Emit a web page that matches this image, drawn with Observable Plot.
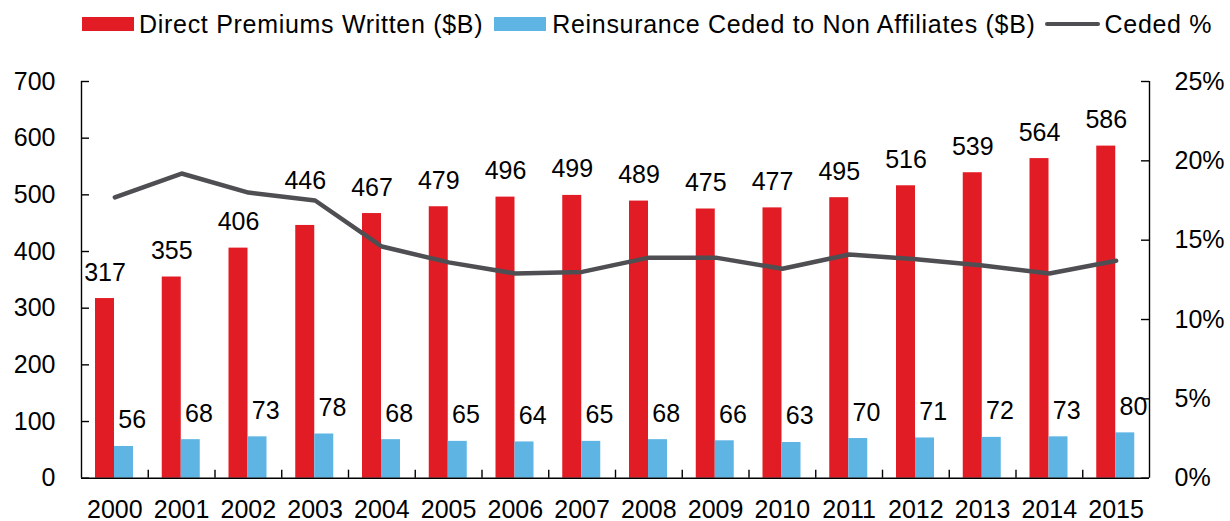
<!DOCTYPE html>
<html>
<head>
<meta charset="utf-8">
<script src="https://cdn.jsdelivr.net/npm/d3@7"></script>
<script src="https://cdn.jsdelivr.net/npm/@observablehq/plot@0.6"></script>
<style>
  html, body { margin: 0; padding: 0; background: #fff; }
  #legend {
    height: 48px; display: flex; align-items: center; padding-left: 82px;
    font-family: "Liberation Sans", Arial, sans-serif; font-size: 25px; letter-spacing: 0.7px; color: #000;
    box-sizing: border-box; white-space: nowrap;
  }
  #legend .sw { display: inline-block; width: 52px; height: 14px; }
  #legend .ln { display: inline-block; width: 55px; height: 4px; border-radius: 2px; }
  #chart svg { display: block; }
</style>
</head>
<body>
<div id="legend"></div>
<div id="chart"></div>
<script>
// ---- data ----
const years = ["2000","2001","2002","2003","2004","2005","2006","2007","2008","2009","2010","2011","2012","2013","2014","2015"];
const directPremiums = [317, 355, 406, 446, 467, 479, 496, 499, 489, 475, 477, 495, 516, 539, 564, 586];
const cededNonAffil = [56, 68, 73, 78, 68, 65, 64, 65, 68, 66, 63, 70, 71, 72, 73, 80];
const cededPct = [17.7, 19.2, 18.0, 17.5, 14.6, 13.6, 12.9, 13.0, 13.9, 13.9, 13.2, 14.1, 13.8, 13.4, 12.9, 13.7];
const leftTicks = [0, 100, 200, 300, 400, 500, 600, 700];
const rightTicks = [0, 5, 10, 15, 20, 25]; // percent
const seriesNames = ["Direct Premiums Written ($B)", "Reinsurance Ceded to Non Affiliates ($B)", "Ceded %"];

// ---- styling ----
const RED = "#e21c24", BLUE = "#5eb5e3", GRAY = "#4f4f53";
const W = 1230, ML = 81, MR = 81, MT = 33, MB = 43.3, SVGH = 473;
const bw = (W - ML - MR) / years.length;
const yMax = 700, pMax = 25;
const pctToY = p => p * yMax / pMax;
const TICK = 8;

const rows = years.map((year, i) => ({
  year, direct: directPremiums[i], ceded: cededNonAffil[i], pct: cededPct[i]
}));

// legend
const legend = document.getElementById("legend");
legend.innerHTML =
  `<span class="sw" style="background:${RED}"></span><span style="margin-left:5px">${seriesNames[0]}</span>` +
  `<span class="sw" style="background:${BLUE};margin-left:11px"></span><span style="margin-left:6px">${seriesNames[1]}</span>` +
  `<span class="ln" style="background:${GRAY};margin-left:9px"></span><span style="margin-left:5px">${seriesNames[2]}</span>`;

const font = "'Liberation Sans', Arial, sans-serif";
const axisStroke = { stroke: "#000", strokeWidth: 1.4 };

const chart = Plot.plot({
  width: W,
  height: SVGH,
  marginLeft: ML,
  marginRight: MR,
  marginTop: MT,
  marginBottom: MB,
  style: { fontFamily: font, fontSize: "25px", color: "#000", background: "#fff", overflow: "visible" },
  x: { type: "band", domain: years, padding: 0, round: false, label: null },
  y: { domain: [0, yMax], label: null },
  marks: [
    // bars
    Plot.barY(rows, { x: "year", y: "direct", fill: RED, insetLeft: 14, insetRight: bw - 33 }),
    Plot.barY(rows, { x: "year", y: "ceded", fill: BLUE, insetLeft: 33, insetRight: bw - 52 }),
    // ceded % line (on secondary scale)
    Plot.line(rows, { x: "year", y: d => pctToY(d.pct), stroke: GRAY, strokeWidth: 4.5, strokeLinejoin: "miter" }),
    // value labels
    Plot.text(rows.filter(d => d.year !== "2003"), { x: "year", y: "direct", text: d => String(d.direct), dx: -9.8, dy: -26, fontSize: 25, fill: "#000" }),
    Plot.text(rows.filter(d => d.year === "2003"), { x: "year", y: "direct", text: d => String(d.direct), dx: -9.8, dy: -44, fontSize: 25, fill: "#000" }),
    Plot.text(rows, { x: "year", y: "ceded", text: d => String(d.ceded), dx: 17.3, dy: -26, fontSize: 25, fill: "#000" }),
    // axis lines
    Plot.ruleY([0], axisStroke),
    Plot.ruleX([years[0]], { dx: -bw / 2, ...axisStroke }),
    Plot.ruleX([years[years.length - 1]], { dx: bw / 2, ...axisStroke }),
    // inward ticks
    Plot.tickY(leftTicks, { x: () => years[0], y: d => d, insetLeft: 0, insetRight: bw - TICK, ...axisStroke }),
    Plot.tickY(rightTicks, { x: () => years[years.length - 1], y: d => pctToY(d), insetLeft: bw - TICK, insetRight: 0, ...axisStroke }),
    Plot.ruleX(years.slice(1), { x: d => d, y1: () => 0, y2: () => 0, insetTop: -TICK, insetBottom: 0, dx: -bw / 2, ...axisStroke }),
    // axis labels
    Plot.axisY(leftTicks, { anchor: "left", tickSize: 0, tickPadding: 26, fontSize: 25, fill: "#000", label: null }),
    Plot.axisY(rightTicks.map(pctToY), { anchor: "right", tickSize: 0, tickPadding: 25, fontSize: 25, fill: "#000", label: null,
      tickFormat: v => Math.round(v * pMax / yMax) + "%" }),
    Plot.axisX(years, { anchor: "bottom", tickSize: 0, tickPadding: 22, fontSize: 25, fill: "#000", label: null })
  ]
});
document.getElementById("chart").appendChild(chart);
</script>
</body>
</html>
